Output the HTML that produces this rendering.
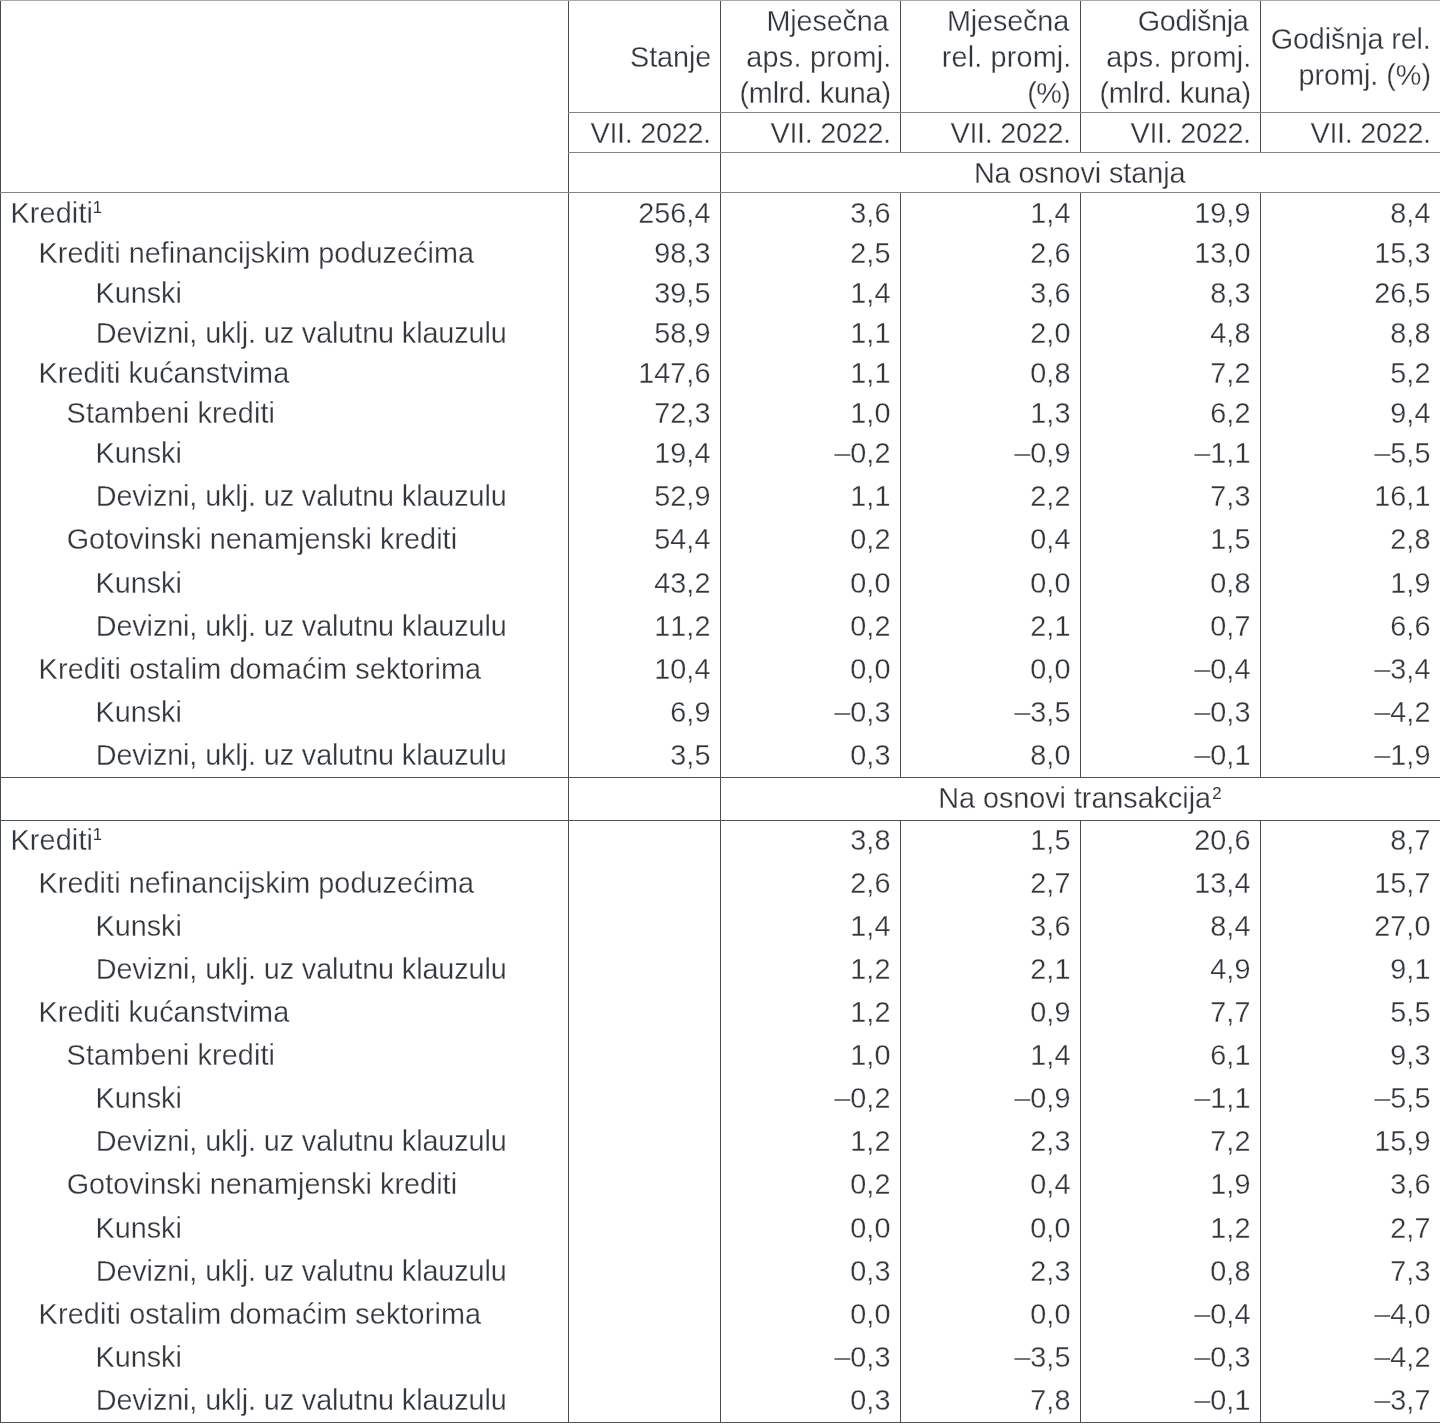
<!DOCTYPE html>
<html lang="hr"><head><meta charset="utf-8"><title>Krediti</title>
<style>
html,body{margin:0;padding:0;background:#fff}
body{width:1440px;height:1424px;position:relative;overflow:hidden;font-family:"Liberation Sans",sans-serif;color:#32373d;font-kerning:none;font-variant-ligatures:none}
.l{position:absolute}
.t{-webkit-text-stroke:0.28px #fff;position:absolute;font-size:28.8px;line-height:30px;height:30px;white-space:nowrap}
.r{text-align:right}
.s{line-height:18px;height:18px;-webkit-text-stroke:0}
</style></head><body>
<div class="l" style="left:0px;top:0px;width:1px;height:1423px;background:#464b50"></div>
<div class="l" style="left:568px;top:0px;width:1px;height:1423px;background:#484d52"></div>
<div class="l" style="left:720px;top:0px;width:1px;height:1423px;background:#484d52"></div>
<div class="l" style="left:900px;top:0px;width:1px;height:152px;background:#484d52"></div>
<div class="l" style="left:900px;top:192px;width:1px;height:585px;background:#484d52"></div>
<div class="l" style="left:900px;top:820px;width:1px;height:603px;background:#484d52"></div>
<div class="l" style="left:1080px;top:0px;width:1px;height:152px;background:#484d52"></div>
<div class="l" style="left:1080px;top:192px;width:1px;height:585px;background:#484d52"></div>
<div class="l" style="left:1080px;top:820px;width:1px;height:603px;background:#484d52"></div>
<div class="l" style="left:1260px;top:0px;width:1px;height:152px;background:#484d52"></div>
<div class="l" style="left:1260px;top:192px;width:1px;height:585px;background:#484d52"></div>
<div class="l" style="left:1260px;top:820px;width:1px;height:603px;background:#484d52"></div>
<div class="l" style="left:0px;top:0px;width:1440px;height:1px;background:#a8aaad"></div>
<div class="l" style="left:568px;top:112px;width:872px;height:1px;background:#83878a"></div>
<div class="l" style="left:568px;top:152px;width:872px;height:1px;background:#83878a"></div>
<div class="l" style="left:0px;top:192px;width:1440px;height:1px;background:#83878a"></div>
<div class="l" style="left:0px;top:777px;width:1440px;height:1px;background:#4d5257"></div>
<div class="l" style="left:0px;top:820px;width:1440px;height:1px;background:#4d5257"></div>
<div class="l" style="left:0px;top:1422px;width:1440px;height:1px;background:#4d5257"></div>
<div class="t" style="left:629.99px;top:42.00px;letter-spacing:-0.055px">Stanje</div>
<div class="t" style="left:766.39px;top:6.00px;letter-spacing:-0.128px">Mjesečna</div>
<div class="t" style="left:746.28px;top:42.00px;letter-spacing:0.265px">aps. promj.</div>
<div class="t" style="left:739.46px;top:78.00px;letter-spacing:-0.187px">(mlrd. kuna)</div>
<div class="t" style="left:946.89px;top:6.00px;letter-spacing:-0.128px">Mjesečna</div>
<div class="t" style="left:941.84px;top:42.00px;letter-spacing:0.152px">rel. promj.</div>
<div class="t" style="left:1027.21px;top:78.00px;letter-spacing:-0.609px">(%)</div>
<div class="t" style="left:1137.80px;top:6.00px;letter-spacing:-0.388px">Godišnja</div>
<div class="t" style="left:1106.28px;top:42.00px;letter-spacing:0.265px">aps. promj.</div>
<div class="t" style="left:1099.46px;top:78.00px;letter-spacing:-0.187px">(mlrd. kuna)</div>
<div class="t" style="left:1270.65px;top:24.00px;letter-spacing:-0.121px">Godišnja rel.</div>
<div class="t" style="left:1298.54px;top:60.00px;letter-spacing:-0.035px">promj. (%)</div>
<div class="t" style="left:973.89px;top:158.00px;letter-spacing:-0.087px">Na osnovi stanja</div>
<div class="t" style="left:938.34px;top:783.00px;letter-spacing:-0.048px">Na osnovi transakcija</div>
<div class="t" style="left:590.47px;top:118.00px;letter-spacing:-0.292px">VII. 2022.</div>
<div class="t" style="left:770.47px;top:118.00px;letter-spacing:-0.292px">VII. 2022.</div>
<div class="t" style="left:950.47px;top:118.00px;letter-spacing:-0.292px">VII. 2022.</div>
<div class="t" style="left:1130.47px;top:118.00px;letter-spacing:-0.292px">VII. 2022.</div>
<div class="t" style="left:1310.47px;top:118.00px;letter-spacing:-0.292px">VII. 2022.</div>
<div class="t s" style="left:1212.36px;top:785.00px;letter-spacing:0.000px;font-size:16.8px">2</div>
<div class="t" style="left:10.54px;top:198.00px;letter-spacing:0.128px">Krediti</div>
<div class="t s" style="left:92.72px;top:198.80px;letter-spacing:0.000px;font-size:16.8px">1</div>
<div class="t r" style="right:729.60px;top:198.00px">256,4</div>
<div class="t r" style="right:549.60px;top:198.00px">3,6</div>
<div class="t r" style="right:369.60px;top:198.00px">1,4</div>
<div class="t r" style="right:189.60px;top:198.00px">19,9</div>
<div class="t r" style="right:9.60px;top:198.00px">8,4</div>
<div class="t" style="left:38.59px;top:238.00px;letter-spacing:0.054px">Krediti nefinancijskim poduzećima</div>
<div class="t r" style="right:729.60px;top:238.00px">98,3</div>
<div class="t r" style="right:549.60px;top:238.00px">2,5</div>
<div class="t r" style="right:369.60px;top:238.00px">2,6</div>
<div class="t r" style="right:189.60px;top:238.00px">13,0</div>
<div class="t r" style="right:9.60px;top:238.00px">15,3</div>
<div class="t" style="left:95.54px;top:278.00px;letter-spacing:-0.028px">Kunski</div>
<div class="t r" style="right:729.60px;top:278.00px">39,5</div>
<div class="t r" style="right:549.60px;top:278.00px">1,4</div>
<div class="t r" style="right:369.60px;top:278.00px">3,6</div>
<div class="t r" style="right:189.60px;top:278.00px">8,3</div>
<div class="t r" style="right:9.60px;top:278.00px">26,5</div>
<div class="t" style="left:95.69px;top:318.00px;letter-spacing:-0.105px">Devizni, uklj. uz valutnu klauzulu</div>
<div class="t r" style="right:729.60px;top:318.00px">58,9</div>
<div class="t r" style="right:549.60px;top:318.00px">1,1</div>
<div class="t r" style="right:369.60px;top:318.00px">2,0</div>
<div class="t r" style="right:189.60px;top:318.00px">4,8</div>
<div class="t r" style="right:9.60px;top:318.00px">8,8</div>
<div class="t" style="left:38.59px;top:358.00px;letter-spacing:0.051px">Krediti kućanstvima</div>
<div class="t r" style="right:729.60px;top:358.00px">147,6</div>
<div class="t r" style="right:549.60px;top:358.00px">1,1</div>
<div class="t r" style="right:369.60px;top:358.00px">0,8</div>
<div class="t r" style="right:189.60px;top:358.00px">7,2</div>
<div class="t r" style="right:9.60px;top:358.00px">5,2</div>
<div class="t" style="left:66.59px;top:398.00px;letter-spacing:0.130px">Stambeni krediti</div>
<div class="t r" style="right:729.60px;top:398.00px">72,3</div>
<div class="t r" style="right:549.60px;top:398.00px">1,0</div>
<div class="t r" style="right:369.60px;top:398.00px">1,3</div>
<div class="t r" style="right:189.60px;top:398.00px">6,2</div>
<div class="t r" style="right:9.60px;top:398.00px">9,4</div>
<div class="t" style="left:95.54px;top:438.00px;letter-spacing:-0.028px">Kunski</div>
<div class="t r" style="right:729.60px;top:438.00px">19,4</div>
<div class="t r" style="right:549.60px;top:438.00px">–0,2</div>
<div class="t r" style="right:369.60px;top:438.00px">–0,9</div>
<div class="t r" style="right:189.60px;top:438.00px">–1,1</div>
<div class="t r" style="right:9.60px;top:438.00px">–5,5</div>
<div class="t" style="left:95.69px;top:481.00px;letter-spacing:-0.105px">Devizni, uklj. uz valutnu klauzulu</div>
<div class="t r" style="right:729.60px;top:481.00px">52,9</div>
<div class="t r" style="right:549.60px;top:481.00px">1,1</div>
<div class="t r" style="right:369.60px;top:481.00px">2,2</div>
<div class="t r" style="right:189.60px;top:481.00px">7,3</div>
<div class="t r" style="right:9.60px;top:481.00px">16,1</div>
<div class="t" style="left:66.65px;top:524.00px;letter-spacing:0.052px">Gotovinski nenamjenski krediti</div>
<div class="t r" style="right:729.60px;top:524.00px">54,4</div>
<div class="t r" style="right:549.60px;top:524.00px">0,2</div>
<div class="t r" style="right:369.60px;top:524.00px">0,4</div>
<div class="t r" style="right:189.60px;top:524.00px">1,5</div>
<div class="t r" style="right:9.60px;top:524.00px">2,8</div>
<div class="t" style="left:95.54px;top:568.00px;letter-spacing:-0.028px">Kunski</div>
<div class="t r" style="right:729.60px;top:568.00px">43,2</div>
<div class="t r" style="right:549.60px;top:568.00px">0,0</div>
<div class="t r" style="right:369.60px;top:568.00px">0,0</div>
<div class="t r" style="right:189.60px;top:568.00px">0,8</div>
<div class="t r" style="right:9.60px;top:568.00px">1,9</div>
<div class="t" style="left:95.69px;top:611.00px;letter-spacing:-0.105px">Devizni, uklj. uz valutnu klauzulu</div>
<div class="t r" style="right:729.60px;top:611.00px">11,2</div>
<div class="t r" style="right:549.60px;top:611.00px">0,2</div>
<div class="t r" style="right:369.60px;top:611.00px">2,1</div>
<div class="t r" style="right:189.60px;top:611.00px">0,7</div>
<div class="t r" style="right:9.60px;top:611.00px">6,6</div>
<div class="t" style="left:38.59px;top:654.00px;letter-spacing:0.125px">Krediti ostalim domaćim sektorima</div>
<div class="t r" style="right:729.60px;top:654.00px">10,4</div>
<div class="t r" style="right:549.60px;top:654.00px">0,0</div>
<div class="t r" style="right:369.60px;top:654.00px">0,0</div>
<div class="t r" style="right:189.60px;top:654.00px">–0,4</div>
<div class="t r" style="right:9.60px;top:654.00px">–3,4</div>
<div class="t" style="left:95.54px;top:697.00px;letter-spacing:-0.028px">Kunski</div>
<div class="t r" style="right:729.60px;top:697.00px">6,9</div>
<div class="t r" style="right:549.60px;top:697.00px">–0,3</div>
<div class="t r" style="right:369.60px;top:697.00px">–3,5</div>
<div class="t r" style="right:189.60px;top:697.00px">–0,3</div>
<div class="t r" style="right:9.60px;top:697.00px">–4,2</div>
<div class="t" style="left:95.69px;top:740.00px;letter-spacing:-0.105px">Devizni, uklj. uz valutnu klauzulu</div>
<div class="t r" style="right:729.60px;top:740.00px">3,5</div>
<div class="t r" style="right:549.60px;top:740.00px">0,3</div>
<div class="t r" style="right:369.60px;top:740.00px">8,0</div>
<div class="t r" style="right:189.60px;top:740.00px">–0,1</div>
<div class="t r" style="right:9.60px;top:740.00px">–1,9</div>
<div class="t" style="left:10.54px;top:825.00px;letter-spacing:0.128px">Krediti</div>
<div class="t s" style="left:92.72px;top:825.80px;letter-spacing:0.000px;font-size:16.8px">1</div>
<div class="t r" style="right:549.60px;top:825.00px">3,8</div>
<div class="t r" style="right:369.60px;top:825.00px">1,5</div>
<div class="t r" style="right:189.60px;top:825.00px">20,6</div>
<div class="t r" style="right:9.60px;top:825.00px">8,7</div>
<div class="t" style="left:38.59px;top:868.00px;letter-spacing:0.054px">Krediti nefinancijskim poduzećima</div>
<div class="t r" style="right:549.60px;top:868.00px">2,6</div>
<div class="t r" style="right:369.60px;top:868.00px">2,7</div>
<div class="t r" style="right:189.60px;top:868.00px">13,4</div>
<div class="t r" style="right:9.60px;top:868.00px">15,7</div>
<div class="t" style="left:95.54px;top:911.00px;letter-spacing:-0.028px">Kunski</div>
<div class="t r" style="right:549.60px;top:911.00px">1,4</div>
<div class="t r" style="right:369.60px;top:911.00px">3,6</div>
<div class="t r" style="right:189.60px;top:911.00px">8,4</div>
<div class="t r" style="right:9.60px;top:911.00px">27,0</div>
<div class="t" style="left:95.69px;top:954.00px;letter-spacing:-0.105px">Devizni, uklj. uz valutnu klauzulu</div>
<div class="t r" style="right:549.60px;top:954.00px">1,2</div>
<div class="t r" style="right:369.60px;top:954.00px">2,1</div>
<div class="t r" style="right:189.60px;top:954.00px">4,9</div>
<div class="t r" style="right:9.60px;top:954.00px">9,1</div>
<div class="t" style="left:38.59px;top:997.00px;letter-spacing:0.051px">Krediti kućanstvima</div>
<div class="t r" style="right:549.60px;top:997.00px">1,2</div>
<div class="t r" style="right:369.60px;top:997.00px">0,9</div>
<div class="t r" style="right:189.60px;top:997.00px">7,7</div>
<div class="t r" style="right:9.60px;top:997.00px">5,5</div>
<div class="t" style="left:66.59px;top:1040.00px;letter-spacing:0.130px">Stambeni krediti</div>
<div class="t r" style="right:549.60px;top:1040.00px">1,0</div>
<div class="t r" style="right:369.60px;top:1040.00px">1,4</div>
<div class="t r" style="right:189.60px;top:1040.00px">6,1</div>
<div class="t r" style="right:9.60px;top:1040.00px">9,3</div>
<div class="t" style="left:95.54px;top:1083.00px;letter-spacing:-0.028px">Kunski</div>
<div class="t r" style="right:549.60px;top:1083.00px">–0,2</div>
<div class="t r" style="right:369.60px;top:1083.00px">–0,9</div>
<div class="t r" style="right:189.60px;top:1083.00px">–1,1</div>
<div class="t r" style="right:9.60px;top:1083.00px">–5,5</div>
<div class="t" style="left:95.69px;top:1126.00px;letter-spacing:-0.105px">Devizni, uklj. uz valutnu klauzulu</div>
<div class="t r" style="right:549.60px;top:1126.00px">1,2</div>
<div class="t r" style="right:369.60px;top:1126.00px">2,3</div>
<div class="t r" style="right:189.60px;top:1126.00px">7,2</div>
<div class="t r" style="right:9.60px;top:1126.00px">15,9</div>
<div class="t" style="left:66.65px;top:1169.00px;letter-spacing:0.052px">Gotovinski nenamjenski krediti</div>
<div class="t r" style="right:549.60px;top:1169.00px">0,2</div>
<div class="t r" style="right:369.60px;top:1169.00px">0,4</div>
<div class="t r" style="right:189.60px;top:1169.00px">1,9</div>
<div class="t r" style="right:9.60px;top:1169.00px">3,6</div>
<div class="t" style="left:95.54px;top:1213.00px;letter-spacing:-0.028px">Kunski</div>
<div class="t r" style="right:549.60px;top:1213.00px">0,0</div>
<div class="t r" style="right:369.60px;top:1213.00px">0,0</div>
<div class="t r" style="right:189.60px;top:1213.00px">1,2</div>
<div class="t r" style="right:9.60px;top:1213.00px">2,7</div>
<div class="t" style="left:95.69px;top:1256.00px;letter-spacing:-0.105px">Devizni, uklj. uz valutnu klauzulu</div>
<div class="t r" style="right:549.60px;top:1256.00px">0,3</div>
<div class="t r" style="right:369.60px;top:1256.00px">2,3</div>
<div class="t r" style="right:189.60px;top:1256.00px">0,8</div>
<div class="t r" style="right:9.60px;top:1256.00px">7,3</div>
<div class="t" style="left:38.59px;top:1299.00px;letter-spacing:0.125px">Krediti ostalim domaćim sektorima</div>
<div class="t r" style="right:549.60px;top:1299.00px">0,0</div>
<div class="t r" style="right:369.60px;top:1299.00px">0,0</div>
<div class="t r" style="right:189.60px;top:1299.00px">–0,4</div>
<div class="t r" style="right:9.60px;top:1299.00px">–4,0</div>
<div class="t" style="left:95.54px;top:1342.00px;letter-spacing:-0.028px">Kunski</div>
<div class="t r" style="right:549.60px;top:1342.00px">–0,3</div>
<div class="t r" style="right:369.60px;top:1342.00px">–3,5</div>
<div class="t r" style="right:189.60px;top:1342.00px">–0,3</div>
<div class="t r" style="right:9.60px;top:1342.00px">–4,2</div>
<div class="t" style="left:95.69px;top:1385.00px;letter-spacing:-0.105px">Devizni, uklj. uz valutnu klauzulu</div>
<div class="t r" style="right:549.60px;top:1385.00px">0,3</div>
<div class="t r" style="right:369.60px;top:1385.00px">7,8</div>
<div class="t r" style="right:189.60px;top:1385.00px">–0,1</div>
<div class="t r" style="right:9.60px;top:1385.00px">–3,7</div>
</body></html>
